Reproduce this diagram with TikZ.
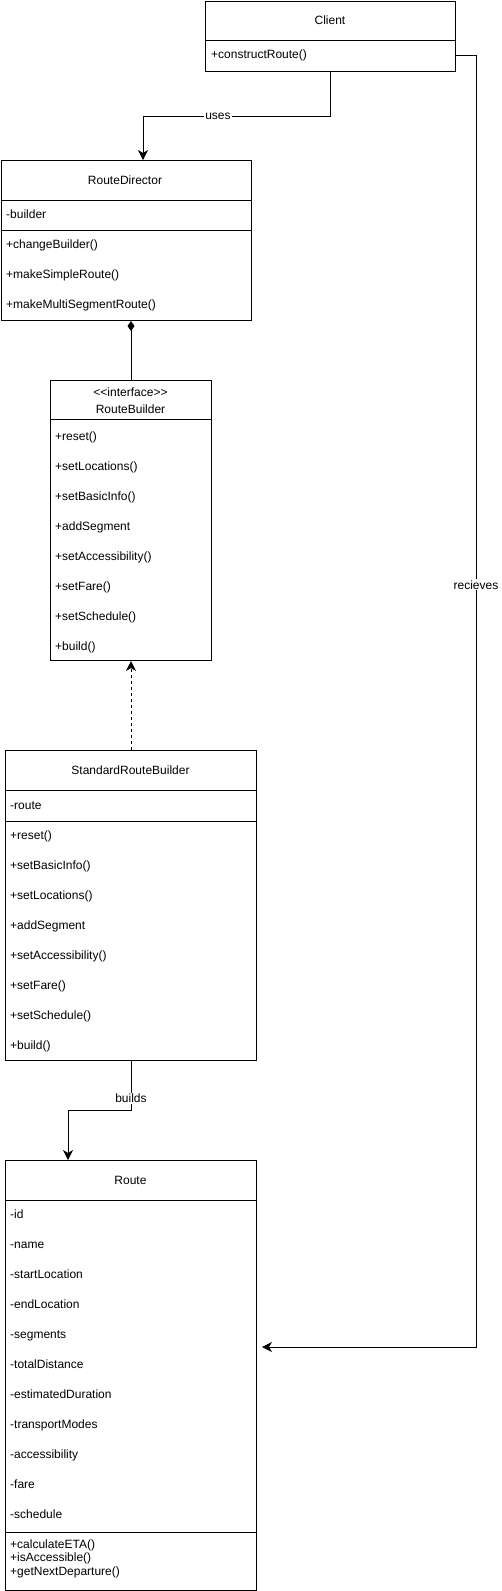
\documentclass[tikz,border=0pt]{standalone}
\usepackage{fontspec}
\setmainfont{Liberation Sans}
\usetikzlibrary{arrows.meta,calc}
\tikzstyle{classbox}=[draw,line width=1pt,inner sep=0pt,anchor=north west]
\tikzstyle{title}=[font=\fontsize{12}{14}\selectfont,inner sep=0pt]
\tikzstyle{member}=[font=\fontsize{12}{14}\selectfont,inner sep=0pt,anchor=west,text height=8.6pt,text depth=2.4pt]
\tikzstyle{sep}=[draw,line width=1pt]
\tikzstyle{edge}=[draw,line width=1pt,-{Stealth[length=10pt,width=10pt,inset=3pt]}]
\tikzstyle{edgelabel}=[font=\fontsize{12}{14}\selectfont,fill=white,inner sep=1pt]

\begin{document}
\begin{tikzpicture}[x=1pt,y=-1pt]
    \useasboundingbox (0,0) rectangle (502,1591);

    % Client
    \node[classbox,minimum width=250pt,minimum height=70pt] (client) at (205,0.5) {};
    \node[title] (clientname) at (330,20) {Client};
    \draw[sep] (205,40) -- (455,40);
    \node[member] (construct) at (211,55) {+constructRoute()};

    % RouteDirector
    \node[classbox,minimum width=250pt,minimum height=160pt] (director) at (0.5,160) {};
    \node[title] (directorname) at (125,180) {RouteDirector};
    \draw[sep] (0.5,200) -- (250.5,200);
    \node[member] (dirbuilder) at (6,215) {-builder};
    \draw[sep] (0.5,230) -- (250.5,230);
    \foreach \i/\txt in {1/changeBuilder(),2/makeSimpleRoute(),3/makeMultiSegmentRoute()}
        \node[member] (dm\i) at (6,{215+30*\i}) {+\txt};

    % RouteBuilder
    \node[classbox,minimum width=161pt,minimum height=280pt] (builder) at (50,380) {};
    \node[title] (stereo) at (130.5,392) {<\kern0pt<interface>\kern0pt>};
    \node[title] (buildername) at (130.5,409) {RouteBuilder};
    \draw[sep] (50,419) -- (211,419);
    \foreach \i/\txt in {1/reset(),2/setLocations(),3/setBasicInfo(),4/addSegment,5/setAccessibility(),6/setFare(),7/setSchedule(),8/build()}
        \node[member] (bm\i) at (55,{407+30*\i}) {+\txt};

    % StandardRouteBuilder
    \node[classbox,minimum width=251pt,minimum height=310pt] (stdbuilder) at (5,750) {};
    \node[title] (stdname) at (130.5,770) {StandardRouteBuilder};
    \draw[sep] (5,790) -- (256,790);
    \node[member] (stdroute) at (10,806) {-route};
    \draw[sep] (5,821) -- (256,821);
    \foreach \i/\txt in {1/reset(),2/setBasicInfo(),3/setLocations(),4/addSegment,5/setAccessibility(),6/setFare(),7/setSchedule(),8/build()}
        \node[member] (sm\i) at (10,{806+30*\i}) {+\txt};

    % Route
    \node[classbox,minimum width=251pt,minimum height=430pt] (route) at (5,1160) {};
    \node[title] (routename) at (130.5,1180) {Route};
    \draw[sep] (5,1200) -- (256,1200);
    \foreach \i/\txt in {1/id,2/name,3/startLocation,4/endLocation,5/segments,6/totalDistance,7/estimatedDuration,8/transportModes,9/accessibility,10/fare,11/schedule}
        \node[member] (ra\i) at (10,{1185+30*\i}) {-\txt};
    \draw[sep] (5,1532) -- (256,1532);
    \node[member] (rm1) at (10,1545) {+calculateETA()};
    \node[member] (rm2) at (10,1558.5) {+isAccessible()};
    \node[member] (rm3) at (10,1572) {+getNextDeparture()};

    % Connectors
    \coordinate (usesbend) at (143,116);
    \draw[edge] (client.south) |- node[edgelabel,pos=0.8] {uses} (usesbend) -- (usesbend |- director.north);

    \draw[line width=1pt,{Diamond[length=10pt,width=7pt]}-] (builder.north |- director.south) -- (builder.north);

    \draw[edge,dash pattern=on 3pt off 3pt] (stdbuilder.north) -- (stdbuilder.north |- builder.south);

    \coordinate (buildsbend) at (68,1110);
    \draw[edge] (stdbuilder.south) |- node[edgelabel,pos=0.38] {builds} (buildsbend) -- (buildsbend |- route.north);

    \coordinate (recvturn) at (476,1347);
    \coordinate (recvend) at (262,1347);
    \draw[edge] (client.east |- construct.west) -| node[edgelabel,pos=0.705] {recieves} (recvturn) -- (recvend);

\end{tikzpicture}
\end{document}
